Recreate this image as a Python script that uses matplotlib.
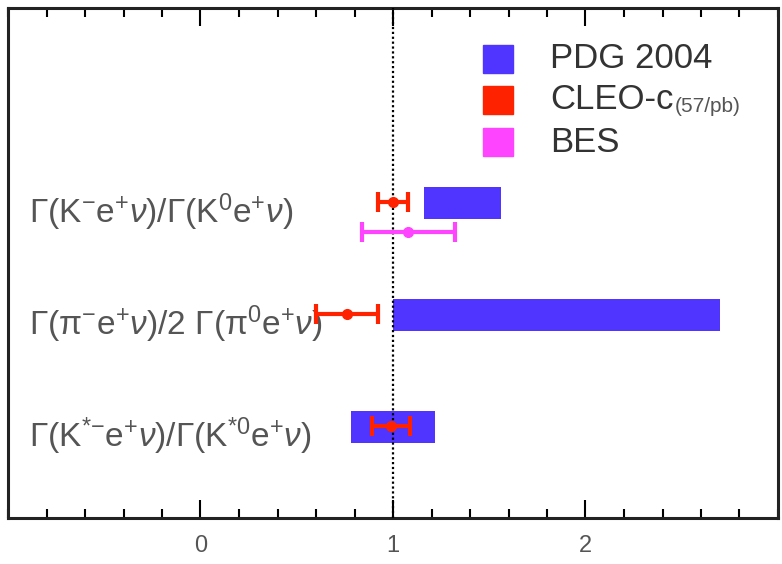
import matplotlib
matplotlib.use("Agg")
import matplotlib.pyplot as plt
from matplotlib.patches import Rectangle
from matplotlib.ticker import MultipleLocator

plt.rcParams['font.family'] = ['Liberation Sans', 'DejaVu Sans']
plt.rcParams['mathtext.fontset'] = 'custom'
plt.rcParams['mathtext.rm'] = 'Liberation Sans'
plt.rcParams['mathtext.it'] = 'Liberation Sans:italic'
plt.rcParams['mathtext.default'] = 'regular'

# rows, top to bottom
labels = [r"$\Gamma(K^{-}e^{+}\mathit{\nu})/\Gamma(K^{0}e^{+}\mathit{\nu})$",
          r"$\Gamma(\pi^{-}e^{+}\mathit{\nu})/2\ \Gamma(\pi^{0}e^{+}\mathit{\nu})$",
          r"$\Gamma(K^{*{-}}e^{+}\mathit{\nu})/\Gamma(K^{*0}e^{+}\mathit{\nu})$"]
rows = [3, 2, 1]

# PDG 2004 bands (centre, half width)
pdg_val = [1.36, 1.85, 1.00]
pdg_err = [0.20, 0.85, 0.22]

# CLEO-c 57/pb
cleo_val = [1.00, 0.76, 0.99]
cleo_err = [0.08, 0.16, 0.10]

# BES (only first ratio)
bes_val = [1.08]
bes_err = [0.24]
bes_rows = [2.74]

c_pdg = '#5034ff'
c_cleo = '#ff2200'
c_bes = '#ff44ff'

fig = plt.figure(figsize=(7.82, 5.64), dpi=100)
ax = fig.add_axes([8/782, 46/564, 770/782, 510/564])

ax.barh(rows, [2*e for e in pdg_err], left=[v - e for v, e in zip(pdg_val, pdg_err)],
        height=0.285, color=c_pdg, zorder=2)
ax.axvline(1, color='black', ls=(0, (1, 1.2)), lw=1.6, zorder=3)
ax.errorbar(cleo_val, [r + 0.01 for r in rows], xerr=cleo_err, fmt='o', color=c_cleo,
            ms=7, elinewidth=3, capsize=7, capthick=3, zorder=4)
ax.errorbar(bes_val, bes_rows, xerr=bes_err, fmt='o', color=c_bes,
            ms=7, elinewidth=3, capsize=7, capthick=3, zorder=4)

for r, lab in zip(rows, labels):
    ax.text(-0.89, r - 0.08, lab, fontsize=24, color='#555555', va='center', ha='left')

# legend drawn by hand
leg = [('PDG 2004', c_pdg, 0.900), ('CLEO-c', c_cleo, 0.820), ('BES', c_bes, 0.737)]
for name, col, yy in leg:
    ax.add_patch(Rectangle((0.617, yy - 0.028), 0.039, 0.056, transform=ax.transAxes,
                           color=col, clip_on=False))
    t = ax.text(0.704, yy, name, transform=ax.transAxes, fontsize=25,
                color='#333333', va='center', ha='left')
    if name == 'CLEO-c':
        ax.annotate('(57/pb)', xy=(1, 0), xycoords=t, xytext=(1, 0),
                    textcoords='offset points', fontsize=15, color='#555555',
                    va='bottom', ha='left')

ax.set_xlim(-1, 3)
ax.set_ylim(0.19, 4.74)
ax.xaxis.set_major_locator(MultipleLocator(1))
ax.xaxis.set_minor_locator(MultipleLocator(0.2))
ax.set_xticks([0, 1, 2])
ax.set_xticklabels(['0', '1', '2'])
ax.set_yticks([])
ax.tick_params(axis='x', which='both', direction='in', top=True, bottom=True,
               labelsize=17, labelcolor='#555555', pad=12)
ax.tick_params(axis='x', which='major', length=13, width=1.5)
ax.tick_params(axis='x', which='minor', length=6.5, width=1.5)
for s in ax.spines.values():
    s.set_linewidth(2.2)
    s.set_color('#222222')

fig.savefig('out.png', dpi=100)
